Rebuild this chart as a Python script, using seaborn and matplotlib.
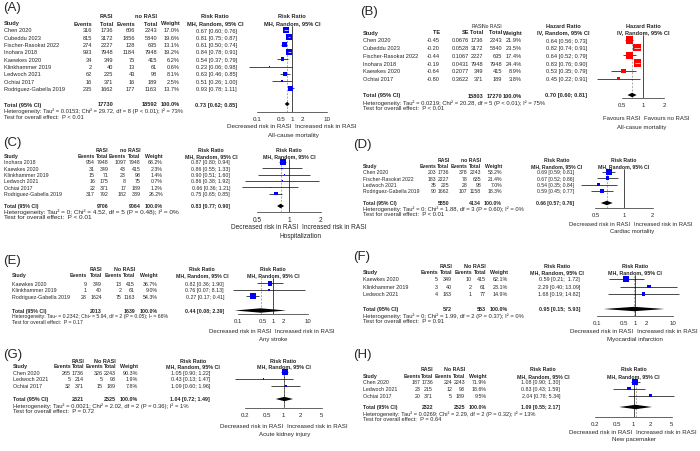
import numpy as np
import pandas as pd
import matplotlib
matplotlib.use("Agg")
import matplotlib.pyplot as plt
import seaborn as sns

# ---- (A) all-cause mortality, RR
a_study = ["Chen 2020", "Cubeddu 2023", "Fischer-Rasokat 2022", "Inohara 2018", "Kaewkes 2020",
           "Klinkhammer 2019", "Ledwoch 2021", "Ochiai 2017", "Rodriguez-Gabella 2019"]
a_ev1 = [316, 815, 274, 993, 34, 2, 62, 16, 235]
a_n1 = [1736, 3172, 2227, 7948, 349, 40, 225, 371, 1662]
a_ev2 = [606, 1856, 128, 1184, 75, 13, 43, 16, 177]
a_n2 = [2243, 5840, 635, 7948, 415, 61, 98, 189, 1163]
a_w = [17.0, 19.6, 13.1, 19.2, 6.2, 0.6, 8.1, 2.5, 13.7]
a_rr = [0.67, 0.81, 0.61, 0.84, 0.54, 0.23, 0.63, 0.51, 0.93]
a_lo = [0.60, 0.75, 0.50, 0.78, 0.37, 0.06, 0.46, 0.26, 0.78]
a_hi = [0.76, 0.87, 0.74, 0.91, 0.79, 0.98, 0.85, 1.00, 1.11]
a_pool = [0.73, 0.62, 0.85]
a_het = "Heterogeneity: Tau² = 0.0153; Chi² = 29.72, df = 8 (P < 0.01); I² = 73%"
a_test = "Test for overall effect:  P < 0.01"

# ---- (B) all-cause mortality, HR
b_study = ["Chen 2020", "Cubeddu 2023", "Fischer-Rasokat 2022", "Inohara 2018", "Kaewkes 2020", "Ochiai 2017"]
b_te = [-0.45, -0.20, -0.44, -0.19, -0.64, -0.80]
b_se = [0.0676, 0.0528, 0.1067, 0.0431, 0.2077, 0.3622]
b_n1 = [1736, 3172, 2227, 7948, 349, 371]
b_n2 = [2243, 5840, 635, 7948, 415, 189]
b_w = [21.9, 23.5, 17.4, 24.4, 8.9, 3.8]
b_hr = [0.64, 0.82, 0.64, 0.83, 0.53, 0.45]
b_lo = [0.56, 0.74, 0.52, 0.76, 0.35, 0.22]
b_hi = [0.73, 0.91, 0.79, 0.90, 0.79, 0.91]
b_pool = [0.70, 0.60, 0.81]
b_het = "Heterogeneity: Tau² = 0.0219; Chi² = 20.28, df = 5 (P < 0.01); I² = 75%"
b_test = "Test for overall effect:  P < 0.01"

# ---- (C) hospitalization
c_study = ["Inohara 2018", "Kaewkes 2020", "Klinkhammer 2019", "Ledwoch 2021", "Ochiai 2017", "Rodriguez-Gabella 2019"]
c_ev1 = [954, 31, 15, 16, 22, 317]
c_n1 = [7948, 349, 71, 175, 371, 792]
c_ev2 = [1097, 43, 23, 8, 17, 182]
c_n2 = [7948, 415, 98, 75, 189, 339]
c_w = [68.2, 2.3, 1.4, 0.7, 1.2, 26.2]
c_rr = [0.87, 0.86, 0.90, 0.86, 0.66, 0.75]
c_lo = [0.80, 0.55, 0.51, 0.38, 0.36, 0.65]
c_hi = [0.94, 1.33, 1.60, 1.92, 1.21, 0.85]
c_pool = [0.83, 0.77, 0.90]
c_het = "Heterogeneity: Tau² = 0; Chi² = 4.52, df = 5 (P = 0.48); I² = 0%"
c_test = "Test for overall effect:  P < 0.01"

# ---- (D) cardiac mortality
d_study = ["Chen 2020", "Fischer-Rasokat 2022", "Ledwoch 2021", "Rodriguez-Gabella 2019"]
d_ev1 = [203, 183, 35, 90]
d_n1 = [1736, 2227, 225, 1662]
d_ev2 = [378, 78, 28, 107]
d_n2 = [2243, 635, 98, 1158]
d_w = [53.2, 21.4, 7.0, 18.3]
d_rr = [0.69, 0.67, 0.54, 0.59]
d_lo = [0.59, 0.52, 0.35, 0.45]
d_hi = [0.81, 0.86, 0.84, 0.77]
d_pool = [0.66, 0.57, 0.76]
d_het = "Heterogeneity: Tau² = 0; Chi² = 1.88, df = 3 (P = 0.60); I² = 0%"
d_test = "Test for overall effect:  P < 0.01"

# ---- (E) any stroke
e_study = ["Kaewkes 2020", "Klinkhammer 2019", "Rodriguez-Gabella 2019"]
e_ev1 = [9, 1, 28]
e_n1 = [349, 40, 1624]
e_ev2 = [13, 2, 75]
e_n2 = [415, 61, 1163]
e_w = [36.7, 9.0, 54.3]
e_rr = [0.82, 0.76, 0.27]
e_lo = [0.36, 0.07, 0.17]
e_hi = [1.90, 8.13, 0.41]
e_pool = [0.44, 0.08, 2.39]
e_het = "Heterogeneity: Tau² = 0.2342; Chi² = 5.94, df = 2 (P = 0.05); I² = 66%"
e_test = "Test for overall effect:  P = 0.17"

# ---- (F) myocardial infarction
f_study = ["Kaewkes 2020", "Klinkhammer 2019", "Ledwoch 2021"]
f_ev1 = [5, 3, 4]
f_n1 = [349, 40, 183]
f_ev2 = [10, 2, 1]
f_n2 = [415, 61, 77]
f_w = [62.1, 23.1, 14.9]
f_rr = [0.59, 2.29, 1.68]
f_lo = [0.21, 0.40, 0.19]
f_hi = [1.72, 13.09, 14.82]
f_pool = [0.95, 0.15, 5.93]
f_het = "Heterogeneity: Tau² = 0; Chi² = 1.99, df = 2 (P = 0.37); I² = 0%"
f_test = "Test for overall effect:  P = 0.91"

# ---- (G) acute kidney injury
g_study = ["Chen 2020", "Ledwoch 2021", "Ochiai 2017"]
g_ev1 = [265, 5, 32]
g_n1 = [1736, 214, 371]
g_ev2 = [326, 5, 15]
g_n2 = [2243, 93, 189]
g_w = [90.3, 1.9, 7.8]
g_rr = [1.05, 0.43, 1.09]
g_lo = [0.90, 0.13, 0.60]
g_hi = [1.22, 1.47, 1.96]
g_pool = [1.04, 0.72, 1.49]
g_het = "Heterogeneity: Tau² = 0.0021; Chi² = 2.02, df = 2 (P = 0.36); I² = 1%"
g_test = "Test for overall effect:  P = 0.72"

# ---- (H) new pacemaker
h_study = ["Chen 2020", "Ledwoch 2021", "Ochiai 2017"]
h_ev1 = [187, 23, 20]
h_n1 = [1736, 215, 371]
h_ev2 = [224, 12, 5]
h_n2 = [2243, 93, 189]
h_w = [71.9, 18.6, 9.5]
h_rr = [1.08, 0.83, 2.04]
h_lo = [0.90, 0.43, 0.78]
h_hi = [1.30, 1.59, 5.34]
h_pool = [1.09, 0.55, 2.17]
h_het = "Heterogeneity: Tau² = 0.0269; Chi² = 2.29, df = 2 (P = 0.32); I² = 13%"
h_test = "Test for overall effect:  P = 0.64"

sns.set_style("white")
plt.rcParams["font.family"] = ["Liberation Sans", "DejaVu Sans"]

W, H = 700, 452
fig = plt.figure(figsize=(7, 4.52), dpi=100)
bg = fig.add_axes([0, 0, 1, 1])
bg.set_xlim(0, W)
bg.set_ylim(H, 0)
bg.axis("off")
renderer = fig.canvas.get_renderer()


def txt(x, y, s, fs, ha="left", bold=False):
    return bg.text(x, y, s, fontsize=fs, ha=ha, va="center",
                   fontweight="bold" if bold else "normal")


def fit_txt(x, y, s, right):
    # scale the font so the line ends near `right` (pixels)
    t = txt(x, y, s, 4)
    wpx = t.get_window_extent(renderer).width
    size = 4 * (right - x) / wpx
    t.set_fontsize(size)
    return size


def ci_str(e, l, h, w):
    return f"{e:.2f} [{l:.2f}; {h:{w}.2f}]"


def draw(L, tag, study, heads, vals, tots, grp, grp_cols, est, lo, hi, wt, pool, het, test,
         measure, method, labs, outcome, color, grp_bold=True):
    fs = L["fs"]
    lfs = L["lfs"]
    txt(L["tag"][0], L["tag"][1], tag, 9.5)
    for g, ci in zip(grp, grp_cols):
        txt(L["cols"][ci], L["h1"], g, fs if grp_bold else fs * 0.9, ha="right", bold=grp_bold)
    txt(L["cic"], L["h1"], measure, fs, ha="center", bold=True)
    txt(L["sx"], L["h2"], "Study", fs, bold=True)
    for hd, x in zip(heads, L["cols"]):
        txt(x, L["h2"], hd, fs, ha="right", bold=True)
    txt(L["cic"], L["h2"], method, fs, ha="center", bold=True)

    ys = L["row0"] + L["dy"] * np.arange(len(study))
    w = max(len(f"{v:.2f}") for v in hi)
    for i, name in enumerate(study):
        txt(L["sx"], ys[i], name, fs)
        for col, x in zip(vals, L["cols"]):
            txt(x, ys[i], col[i], fs, ha="right")
        txt(L["cir"], ys[i], ci_str(est[i], lo[i], hi[i], w), fs, ha="right")
    txt(L["sx"], L["tot"], "Total (95% CI)", fs, bold=True)
    for v, x in zip(tots, L["cols"]):
        if v:
            txt(x, L["tot"], v, fs, ha="right", bold=True)
    txt(L["cir"], L["tot"], ci_str(pool[0], pool[1], pool[2], w), fs, ha="right", bold=True)
    hs = fit_txt(L["sx"], L["het"], het, L["hetr"])
    txt(L["sx"], L["test"], test, hs)

    # forest part, log scale with 1 at pixel L["one"]
    ticks = L["ticks"]
    one, ppd = L["one"], L["ppd"]
    left = one + np.log10(ticks[0]) * ppd
    width = np.log10(ticks[-1] / ticks[0]) * ppd
    ax = fig.add_axes([left / W, 1 - L["axis"] / H, width / W, (L["axis"] - L["top"]) / H])
    ax.patch.set_alpha(0)
    ax.set_xscale("log")
    ax.axvline(1, color="black", lw=0.5, zorder=1)
    ax.axvline(pool[0], color="0.55", lw=0.5, ls=(0, (3, 2)), zorder=1)
    ax.hlines(ys, lo, hi, color="black", lw=0.5, zorder=2, clip_on=False)
    smax = (L["box"] * 72 / 100) ** 2
    df = pd.DataFrame({"est": est, "y": ys, "w": wt})
    sns.scatterplot(data=df, x="est", y="y", size="w", sizes=(0.3, smax), size_norm=(0, max(wt)),
                    marker="s", color=color, linewidth=0, legend=False, ax=ax, zorder=3, clip_on=False)
    # CI line lying inside its box is drawn white
    for i in range(len(est)):
        half = np.sqrt(0.3 + (smax - 0.3) * wt[i] / max(wt)) * 100 / 72 / 2
        dl = (np.log10(est[i]) - np.log10(lo[i])) * ppd
        dh = (np.log10(hi[i]) - np.log10(est[i])) * ppd
        if dl < half and dh < half:
            ax.hlines(ys[i], lo[i], hi[i], color="white", lw=0.5, zorder=4)
    dh = 2.2
    ax.fill([pool[1], pool[0], pool[2], pool[0]], [L["tot"], L["tot"] - dh, L["tot"], L["tot"] + dh],
            color="black", lw=0, zorder=3, clip_on=False)
    ax.set_xlim(ticks[0], ticks[-1])
    ax.set_ylim(L["axis"], L["top"])
    for sp in ["top", "right", "left"]:
        ax.spines[sp].set_visible(False)
    ax.spines["bottom"].set_linewidth(0.5)
    ax.set_yticks([])
    ax.minorticks_off()
    ax.set_xticks(ticks, [f"{t:g}" for t in ticks])
    ax.tick_params(axis="x", length=1.6, width=0.5, pad=1.2, labelsize=lfs, direction="out")
    ax.set_xlabel("")
    ax.set_ylabel("")
    txt(one, L["h1"], measure, fs, ha="center", bold=True)
    txt(one, L["h2"], method, fs, ha="center", bold=True)
    lc = L["lc"]
    txt(lc - 2, L["dec"], labs[0], lfs, ha="right")
    txt(lc + 2, L["dec"], labs[1], lfs, ha="left")
    txt(lc, L["out"], outcome, lfs, ha="center")


rr_heads = ["Events", "Total", "Events", "Total", "Weight"]


def rr_panel(L, tag, study, ev1, n1, ev2, n2, wt, rr, lo, hi, pool, het, test, outcome, grp):
    vals = [[str(v) for v in ev1], [str(v) for v in n1], [str(v) for v in ev2],
            [str(v) for v in n2], [f"{v:.1f}%" for v in wt]]
    tots = ["", str(sum(n1)), "", str(sum(n2)), "100.0%"]
    draw(L, tag, study, rr_heads, vals, tots, grp, [1, 3], rr, lo, hi, wt, pool, het, test,
         "Risk Ratio", "MH, Random, 95% CI", ["Decreased risk in RASI", "Increased risk in RASI"],
         outcome, "#0000FF")


lay_a = dict(fs=4.1, lfs=4.5, tag=(3, 8), sx=4, cols=[92, 113, 135, 157, 180], cir=237, cic=215,
             h1=16, h2=24, row0=31, dy=7.3, tot=105, het=111.5, test=117.5, hetr=180,
             one=292, ppd=35, ticks=[0.1, 0.5, 1, 2, 10], axis=113, top=27, dec=127, out=136,
             lc=293, box=6)
lay_b = dict(fs=4.1, lfs=4.3, tag=(360, 12), sx=363, cols=[440, 469, 483, 502, 522], cir=587, cic=563,
             h1=26, h2=33, row0=41, dy=7.7, tot=96, het=103, test=108, hetr=543,
             one=643, ppd=70, ticks=[0.5, 1, 2], axis=99, top=36, dec=118, out=127,
             lc=642, box=7.5)
lay_c = dict(fs=3.8, lfs=4.7, tag=(3, 143), sx=4, cols=[95, 108.5, 126, 140.5, 163], cir=230, cic=211,
             h1=151, h2=157, row0=163, dy=6.3, tot=207, het=212.5, test=218, hetr=177,
             one=289, ppd=105, ticks=[0.5, 1, 2], axis=213, top=160, dec=228, out=237,
             lc=300, box=6)
lay_d = dict(fs=3.7, lfs=4.2, tag=(353, 145), sx=363, cols=[436.5, 449.5, 467.5, 481, 502], cir=574, cic=557,
             h1=160.5, h2=167, row0=173, dy=6.3, tot=204, het=209.5, test=215, hetr=523,
             one=624, ppd=95, ticks=[0.5, 1, 2], axis=209, top=170, dec=225, out=232,
             lc=632, box=6)
lay_e = dict(fs=3.8, lfs=4.3, tag=(3, 261), sx=12, cols=[87, 102, 122, 135, 158], cir=224, cic=202,
             h1=270, h2=276, row0=284.3, dy=6.5, tot=311.5, het=317, test=322.5, hetr=168,
             one=273, ppd=35, ticks=[0.1, 0.5, 1, 2, 10], axis=315, top=279, dec=332, out=340,
             lc=273, box=6)
lay_f = dict(fs=3.9, lfs=4.4, tag=(353, 257), sx=363, cols=[438, 452, 472, 486, 508], cir=580, cic=557,
             h1=267, h2=273, row0=280, dy=7.5, tot=310, het=316.5, test=322, hetr=523,
             one=635, ppd=38, ticks=[0.1, 0.5, 1, 2, 10], axis=317, top=276, dec=332, out=340,
             lc=635, box=6)
lay_g = dict(fs=3.9, lfs=4.4, tag=(3, 355), sx=13, cols=[71, 84, 103, 116, 138], cir=210, cic=193,
             h1=361.5, h2=367, row0=373.3, dy=6.7, tot=400, het=406, test=412, hetr=186,
             one=283.5, ppd=55, ticks=[0.2, 0.5, 1, 2, 5], axis=409, top=370, dec=427, out=435,
             lc=285, box=6)
lay_h = dict(fs=3.8, lfs=4.4, tag=(353, 355), sx=363, cols=[420.5, 433, 452, 465, 487], cir=560, cic=543,
             h1=370, h2=376.5, row0=382.5, dy=7.0, tot=408, het=414, test=419.5, hetr=532,
             one=633.5, ppd=55, ticks=[0.2, 0.5, 1, 2, 5], axis=418, top=380, dec=433, out=440,
             lc=634, box=6)

rr_panel(lay_a, "(A)", a_study, a_ev1, a_n1, a_ev2, a_n2, a_w, a_rr, a_lo, a_hi, a_pool,
         a_het, a_test, "All-cause mortality", ["RASI", "no RASI"])

b_vals = [[f"{v:.2f}" for v in b_te], [f"{v:.4f}" for v in b_se], [str(v) for v in b_n1],
          [str(v) for v in b_n2], [f"{v:.1f}%" for v in b_w]]
draw(lay_b, "(B)", b_study, ["TE", "SE", "Total", "Total", "Weight"], b_vals,
     ["", "", str(sum(b_n1)), str(sum(b_n2)), "100.0%"], ["RASI", "No RASI"], [2, 3],
     b_hr, b_lo, b_hi, b_w, b_pool, b_het, b_test, "Hazard Ratio", "IV, Random, 95% CI",
     ["Favours RASI", "Favours no RASI"], "All-casue mortality", "#FF0000", grp_bold=False)

rr_panel(lay_c, "(C)", c_study, c_ev1, c_n1, c_ev2, c_n2, c_w, c_rr, c_lo, c_hi, c_pool,
         c_het, c_test, "Hospitalization", ["RASI", "no RASI"])
rr_panel(lay_d, "(D)", d_study, d_ev1, d_n1, d_ev2, d_n2, d_w, d_rr, d_lo, d_hi, d_pool,
         d_het, d_test, "Cardiac mortality", ["RASI", "no RASI"])
rr_panel(lay_e, "(E)", e_study, e_ev1, e_n1, e_ev2, e_n2, e_w, e_rr, e_lo, e_hi, e_pool,
         e_het, e_test, "Any stroke", ["RASI", "No RASI"])
rr_panel(lay_f, "(F)", f_study, f_ev1, f_n1, f_ev2, f_n2, f_w, f_rr, f_lo, f_hi, f_pool,
         f_het, f_test, "Myocardial infarction", ["RASI", "No RASI"])
rr_panel(lay_g, "(G)", g_study, g_ev1, g_n1, g_ev2, g_n2, g_w, g_rr, g_lo, g_hi, g_pool,
         g_het, g_test, "Acute kidney injury", ["RASI", "No RASI"])
rr_panel(lay_h, "(H)", h_study, h_ev1, h_n1, h_ev2, h_n2, h_w, h_rr, h_lo, h_hi, h_pool,
         h_het, h_test, "New pacemaker", ["RASI", "No RASI"])

fig.savefig("out.png", dpi=100)
